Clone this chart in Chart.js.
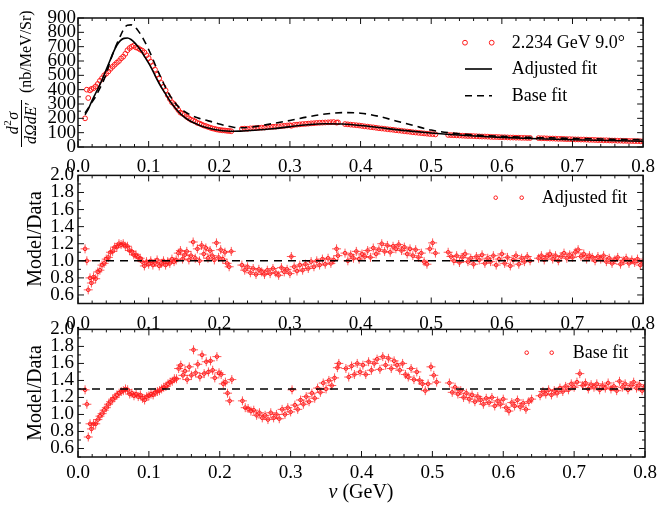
<!DOCTYPE html>
<html><head><meta charset="utf-8">
<script src="https://cdn.jsdelivr.net/npm/chart.js@4"></script>
<style>
html,body{margin:0;padding:0;background:#fff;width:664px;height:517px;overflow:hidden;}
canvas{position:absolute;left:0;}
</style></head><body>
<canvas id="c1" width="664" height="175" style="top:0px"></canvas>
<canvas id="c2" width="664" height="175" style="top:160px"></canvas>
<canvas id="c3" width="664" height="203" style="top:314px"></canvas>
<script>
// ---------------- DATA ----------------
const xTicks = [0.0,0.1,0.2,0.3,0.4,0.5,0.6,0.7,0.8];
const yTicksTop = [0,100,200,300,400,500,600,700,800,900];
const yTicksRatio = [0.6,0.8,1.0,1.2,1.4,1.6,1.8,2.0];
const legendTop = ["2.234 GeV 9.0°","Adjusted fit","Base fit"];
const legendMid = ["Adjusted fit"];
const legendBot = ["Base fit"];
const refAdj = 1.0;
const refBase = 1.3;

// energy transfer nu (GeV) for data points
const nu = [
0.010,0.0125,0.0145,0.017,0.019,0.022,0.025,0.028,0.031,0.034,0.037,0.040,0.043,0.046,0.049,0.052,0.055,0.058,0.061,0.064,0.067,0.070,0.073,0.076,0.079,0.082,0.085,0.088,0.091,0.094,0.097,0.100,0.103,0.106,0.109,0.112,0.115,0.118,0.121,0.124,0.127,0.130,0.133,0.136,0.139,0.142,0.145,0.148,0.151,0.154,0.157,0.160,0.163,0.166,0.169,0.172,0.175,0.178,0.181,0.184,0.187,0.190,0.193,0.196,0.199,0.202,0.205,0.208,0.211,0.214,0.217,
0.232,0.236,0.240,0.244,0.248,0.252,0.256,0.260,0.264,0.268,0.272,0.276,0.280,0.284,0.288,0.292,0.296,0.300,0.302,0.306,0.310,0.314,0.318,0.322,0.326,0.330,0.334,0.338,0.342,0.346,0.350,0.354,0.358,0.362,0.366,0.368,
0.378,0.382,0.386,0.390,0.394,0.398,0.402,0.406,0.410,0.414,0.418,0.422,0.426,0.430,0.434,0.438,0.442,0.446,0.450,0.454,0.458,0.462,0.466,0.470,0.474,0.478,0.482,0.486,0.490,0.494,0.498,0.502,0.506,
0.524,0.528,0.532,0.536,0.540,0.544,0.548,0.552,0.556,0.560,0.564,0.568,0.572,0.576,0.580,0.584,0.588,0.592,0.596,0.600,0.604,0.608,0.612,0.616,0.620,0.624,0.628,0.632,0.636,0.640,
0.652,0.656,0.660,0.664,0.668,0.672,0.676,0.680,0.684,0.688,0.692,0.696,0.700,0.704,0.708,0.712,0.716,0.720,0.724,0.728,0.732,0.736,0.740,0.744,0.748,0.752,0.756,0.760,0.764,0.768,0.772,0.776,0.780,0.784,0.788,0.792,0.796,0.800
];
// cross section d2sigma/dOmega dE' (nb/MeV/Sr)
const xsec = [
200,400,342,395,405,410,423,440,462,480,500,512,527,545,560,574,588,600,618,630,650,675,690,700,707,695,690,680,672,660,640,620,595,565,540,505,480,447,420,395,362,335,312,300,278,258,240,232,225,210,200,190,185,178,168,164,157,150,146,140,135,130,127,123,120,118,116,115,113,112,110,
127,128,127,130,131,132,134,135,136,138,140,141,142,144,146,148,150,152,148,154,156,158,160,161,163,165,166,168,169,170,171,172,173,174,170,172,
160,158,156,154,152,150,147,144,142,139,137,134,131,129,127,124,122,120,117,115,113,110,108,106,103,101,99,97,95,93,91,90,88,
84,83,82,81,80,79,78,77,77,76,75,74,73,73,72,71,70,70,69,68,68,67,66,66,65,65,64,64,63,63,
62,61,61,60,59,59,58,57,57,56,55,55,54,53,53,52,52,51,50,50,49,48,48,47,47,46,45,45,44,44,43,43,42,42,41,41,40,40
];
// Model/Data, adjusted fit
const ratioAdj = [
1.14,1.00,0.66,0.80,0.74,
0.81,0.79,0.87,0.89,0.95,0.97,1.02,1.04,1.10,1.11,1.16,1.16,1.20,1.19,1.20,1.17,1.17,1.12,1.11,1.07,1.07,1.04,1.03,
0.99,0.94,0.99,0.96,1.00,0.95,0.98,1.01,0.94,0.97,1.00,0.95,0.99,0.97,1.02,0.99,
1.01,1.09,1.12,1.02,1.07,1.11,1.01,1.06,1.22,1.03,1.14,1.00,1.18,1.08,1.15,1.03,1.12,1.06,1.01,1.21,1.04,1.13,1.02,1.10,0.97,0.93,1.11,
0.95,0.89,0.93,0.86,0.91,0.84,0.90,0.87,0.84,0.89,0.85,0.91,0.86,0.83,0.92,0.87,0.90,0.85,1.05,0.93,0.88,0.95,0.89,0.96,0.91,0.99,0.93,1.00,0.95,1.02,0.96,1.03,0.97,1.01,1.14,1.06,
1.09,1.00,1.07,1.03,1.11,1.02,1.08,1.05,1.12,1.04,1.15,1.08,1.13,1.20,1.11,1.18,1.10,1.17,1.14,1.19,1.12,1.16,1.08,1.14,1.06,1.13,1.04,1.09,0.99,0.96,1.14,1.21,1.09,
1.10,1.05,1.00,1.06,0.98,1.04,1.08,0.99,1.03,0.96,1.05,1.01,1.07,0.97,1.03,0.99,1.06,0.95,1.02,1.08,0.97,1.04,0.94,1.01,1.06,0.96,1.03,0.99,1.05,1.00,
1.03,1.06,1.01,1.05,1.08,1.02,1.06,1.00,1.05,1.09,1.03,1.07,1.04,1.10,1.13,1.05,1.08,1.02,1.06,1.04,1.00,1.05,1.02,1.06,0.99,1.03,0.97,1.01,1.04,0.96,1.00,1.03,0.97,1.01,0.98,1.02,0.95,0.99
];
// Model/Data, base fit
const ratioBase = [
1.29,1.12,0.735,0.89,0.83,
0.89,0.89,0.94,0.98,1.01,1.05,1.08,1.12,1.15,1.18,1.20,1.23,1.25,1.27,1.28,1.30,1.29,1.24,1.25,1.22,1.24,1.21,1.23,
1.19,1.17,1.21,1.22,1.24,1.23,1.26,1.27,1.28,1.30,1.32,1.33,1.36,1.38,1.39,1.42,
1.42,1.54,1.58,1.46,1.51,1.41,1.56,1.46,1.76,1.49,1.59,1.44,1.70,1.48,1.62,1.50,1.63,1.52,1.43,1.68,1.49,1.47,1.36,1.38,1.25,1.16,1.41,
1.16,1.08,1.07,1.04,1.05,0.99,1.02,0.96,0.99,0.94,1.02,0.96,1.00,0.95,1.06,1.00,1.08,1.03,1.29,1.11,1.06,1.17,1.12,1.21,1.15,1.25,1.19,1.31,1.26,1.37,1.30,1.40,1.34,1.43,1.55,1.60,
1.54,1.44,1.57,1.47,1.60,1.50,1.58,1.47,1.62,1.52,1.60,1.65,1.53,1.68,1.58,1.66,1.54,1.63,1.58,1.52,1.60,1.47,1.44,1.54,1.41,1.50,1.40,1.36,1.28,1.36,1.56,1.46,1.38,
1.37,1.26,1.32,1.24,1.28,1.20,1.25,1.18,1.23,1.15,1.21,1.17,1.12,1.19,1.14,1.20,1.10,1.16,1.12,1.18,1.08,1.04,1.14,1.10,1.17,1.09,1.13,1.06,1.15,1.18,
1.22,1.27,1.24,1.29,1.23,1.28,1.25,1.31,1.27,1.33,1.29,1.36,1.32,1.38,1.48,1.34,1.37,1.30,1.35,1.32,1.36,1.29,1.34,1.31,1.37,1.30,1.33,1.28,1.39,1.32,1.36,1.29,1.34,1.38,1.31,1.35,1.28,1.33
];
// fit curves
const fitNu = [0.010,0.015,0.020,0.025,0.030,0.035,0.040,0.045,0.050,0.055,0.060,0.065,0.070,0.075,0.080,0.085,0.090,0.095,0.100,0.105,0.110,0.115,0.120,0.125,0.130,0.140,0.150,0.160,0.170,0.180,0.190,0.200,0.210,0.220,0.230,0.250,0.275,0.300,0.325,0.350,0.375,0.400,0.425,0.450,0.475,0.500,0.550,0.600,0.650,0.700,0.750,0.800];
const adjFit = [225,270,325,375,425,480,540,600,660,710,742,758,760,750,728,700,665,625,585,540,490,443,400,362,322,258,210,178,156,138,126,117,112,110,111,117,127,142,155,162,160,150,136,121,109,98,80,67,58,51,45,40];
const baseFit = [237,275,315,352,400,450,510,590,660,720,775,825,850,852,840,812,775,730,680,625,565,510,455,405,360,292,250,222,202,188,175,160,148,138,134,142,163,185,210,230,240,236,215,182,150,118,88,74,66,60,55,51];

// ---------------- DRAWING ----------------
const SERIF = '"Liberation Serif","Times New Roman",serif';
const pts = (xs, ys) => xs.map((x,i)=>({x:x, y:ys[i]}));

function deco(o){
  return {
    id:'deco',
    afterDraw(chart){
      const ctx=chart.ctx, a=chart.chartArea, x=chart.scales.x, y=chart.scales.y;
      ctx.save();
      ctx.strokeStyle='#111';
      ctx.lineWidth=1;
      ctx.beginPath();
      for(let k=0;k<=40;k++){
        const px=x.getPixelForValue(k*0.02);
        const L=(k%5===0)?6:3;
        ctx.moveTo(px,a.bottom); ctx.lineTo(px,a.bottom-L);
        ctx.moveTo(px,a.top); ctx.lineTo(px,a.top+L);
      }
      const k0=Math.ceil(o.ymin/o.minor-1e-9), k1=Math.floor(o.ymax/o.minor+1e-9);
      for(let k=k0;k<=k1;k++){
        const py=y.getPixelForValue(k*o.minor);
        const L=(k%2===0)?6:3;
        ctx.moveTo(a.left,py); ctx.lineTo(a.left+L,py);
        ctx.moveTo(a.right,py); ctx.lineTo(a.right-L,py);
      }
      ctx.stroke();
      ctx.lineWidth=1.5;
      ctx.strokeRect(a.left,a.top,a.right-a.left,a.bottom-a.top);
      if(o.extra) o.extra(ctx,chart);
      ctx.restore();
    }
  };
}

function circle(ctx,x,y,r){ctx.beginPath();ctx.arc(x,y,r,0,Math.PI*2);ctx.stroke();}

function rotTitle(ctx, text, bx, cy){
  ctx.save();
  ctx.translate(bx,cy); ctx.rotate(-Math.PI/2);
  ctx.font='20px '+SERIF; ctx.fillStyle='#000';
  ctx.textAlign='center'; ctx.textBaseline='alphabetic';
  ctx.fillText(text,0,0);
  ctx.restore();
}

function makeChart(id, padTop, xH, xPad, yPad, ymin, ymax, yTicks, yFmt, datasets, decoOpts){
  return new Chart(document.getElementById(id), {
    type:'scatter',
    data:{datasets:datasets},
    options:{
      responsive:false, animation:false, devicePixelRatio:1,
      layout:{padding:{left:0,right:19,top:padTop,bottom:0}},
      plugins:{legend:{display:false}, tooltip:{enabled:false}},
      scales:{
        x:{type:'linear', min:0, max:0.8,
           afterFit:s=>{s.height=xH;},
           afterBuildTicks:s=>{s.ticks=xTicks.map(v=>({value:v}));},
           grid:{display:false, drawTicks:false}, border:{display:false},
           ticks:{font:{family:SERIF,size:19}, color:'#000', padding:xPad, maxRotation:0, autoSkip:false,
                  callback:v=>Number(v).toFixed(1)}},
        y:{type:'linear', min:ymin, max:ymax,
           afterFit:s=>{s.width=78;},
           afterBuildTicks:s=>{s.ticks=yTicks.map(v=>({value:v}));},
           grid:{display:false, drawTicks:false}, border:{display:false},
           ticks:{font:{family:SERIF,size:19}, color:'#000', padding:yPad, autoSkip:false,
                  callback:yFmt}}
      }
    },
    plugins:[deco(decoOpts)]
  });
}

const crossColor='rgba(255,25,25,0.72)';

// ---- top panel ----
makeChart('c1', 18, 28, 9, 2, 0, 900, yTicksTop, v=>String(Math.round(v)), [
  {data:pts(fitNu,adjFit), showLine:true, borderColor:'#000', borderWidth:1.6, pointRadius:0, cubicInterpolationMode:'monotone'},
  {data:pts(fitNu,baseFit), showLine:true, borderColor:'#000', borderWidth:1.6, borderDash:[7,5], pointRadius:0, cubicInterpolationMode:'monotone'},
  {data:pts(nu,xsec), showLine:false, pointStyle:'circle', pointRadius:2.4, pointBorderWidth:1, pointBorderColor:'#ff1a1a', pointBackgroundColor:'rgba(0,0,0,0)'}
], {ymin:0, ymax:900, minor:50, extra:(ctx)=>{
  // legend
  ctx.strokeStyle='#ff1a1a'; ctx.lineWidth=1;
  circle(ctx,465,42.7,2.4); circle(ctx,491.7,42.7,2.4);
  ctx.strokeStyle='#000'; ctx.lineWidth=1.6;
  ctx.beginPath(); ctx.moveTo(465,69); ctx.lineTo(492,69); ctx.stroke();
  ctx.setLineDash([7,5]); ctx.beginPath(); ctx.moveTo(465,95.7); ctx.lineTo(492,95.7); ctx.stroke(); ctx.setLineDash([]);
  ctx.fillStyle='#000'; ctx.font='18px '+SERIF; ctx.textAlign='left'; ctx.textBaseline='middle';
  ctx.fillText(legendTop[0],511.7,43); ctx.fillText(legendTop[1],511.7,69.5); ctx.fillText(legendTop[2],511.7,96);
  // y title: d^2 sigma / dOmega dE'  (nb/MeV/Sr)
  ctx.save();
  ctx.translate(0,147); ctx.rotate(-Math.PI/2);
  ctx.textBaseline='alphabetic'; ctx.textAlign='left';
  const fI='italic 16px '+SERIF, fS='11px '+SERIF;
  ctx.font=fI; const wd=ctx.measureText('d').width;
  ctx.font=fS; const w2=ctx.measureText('2').width;
  ctx.font=fI; const ws=ctx.measureText('σ').width;
  let nx=23.5-(wd+w2+ws)/2;
  ctx.font=fI; ctx.fillText('d',nx,18); nx+=wd;
  ctx.font=fS; ctx.fillText('2',nx+0.5,11); nx+=w2+1;
  ctx.font=fI; ctx.fillText('σ',nx,18);
  ctx.lineWidth=1; ctx.strokeStyle='#000';
  ctx.beginPath(); ctx.moveTo(0,21.5); ctx.lineTo(47,21.5); ctx.stroke();
  ctx.font=fI; ctx.textAlign='center';
  ctx.fillText('dΩdE′',23.5,35.5);
  ctx.font='16px '+SERIF; ctx.textAlign='left';
  ctx.fillText('(nb/MeV/Sr)',54,31);
  ctx.restore();
}});

// ---- middle panel ----
makeChart('c2', 15, 31.5, 9, 4, 0.5, 2.0, yTicksRatio, v=>Number(v).toFixed(1), [
  {data:[{x:0,y:refAdj},{x:0.8,y:refAdj}], showLine:true, borderColor:'#000', borderWidth:1.6, borderDash:[8,6], pointRadius:0},
  {data:pts(nu,ratioAdj), showLine:false, pointStyle:'circle', pointRadius:1.8, pointBorderWidth:1, pointBorderColor:'#ff1a1a', pointBackgroundColor:'rgba(0,0,0,0)'},
  {data:pts(nu,ratioAdj), showLine:false, pointStyle:'cross', pointRadius:4.5, pointBorderWidth:1, pointBorderColor:crossColor}
], {ymin:0.5, ymax:2.0, minor:0.1, extra:(ctx)=>{
  ctx.strokeStyle='#ff1a1a'; ctx.lineWidth=1;
  circle(ctx,495.7,37.7,1.8); circle(ctx,521.7,37.7,1.8);
  ctx.fillStyle='#000'; ctx.font='18px '+SERIF; ctx.textAlign='left'; ctx.textBaseline='middle';
  ctx.fillText(legendMid[0],541.7,38);
  rotTitle(ctx,'Model/Data',41,79);
}});

// ---- bottom panel ----
makeChart('c3', 15, 60, 5, 4, 0.5, 2.0, yTicksRatio, v=>Number(v).toFixed(1), [
  {data:[{x:0,y:refBase},{x:0.8,y:refBase}], showLine:true, borderColor:'#000', borderWidth:1.6, borderDash:[8,6], pointRadius:0},
  {data:pts(nu,ratioBase), showLine:false, pointStyle:'circle', pointRadius:1.8, pointBorderWidth:1, pointBorderColor:'#ff1a1a', pointBackgroundColor:'rgba(0,0,0,0)'},
  {data:pts(nu,ratioBase), showLine:false, pointStyle:'cross', pointRadius:4.5, pointBorderWidth:1, pointBorderColor:crossColor}
], {ymin:0.5, ymax:2.0, minor:0.1, extra:(ctx)=>{
  ctx.strokeStyle='#ff1a1a'; ctx.lineWidth=1;
  circle(ctx,526.7,38.7,1.8); circle(ctx,551.7,38.7,1.8);
  ctx.fillStyle='#000'; ctx.font='18px '+SERIF; ctx.textAlign='left'; ctx.textBaseline='middle';
  ctx.fillText(legendBot[0],572.7,39);
  rotTitle(ctx,'Model/Data',41,79);
  ctx.font='italic 20px '+SERIF; const w1=ctx.measureText('ν').width;
  ctx.font='20px '+SERIF; const w2=ctx.measureText(' (GeV)').width;
  let sx=361-(w1+w2)/2;
  ctx.textAlign='left'; ctx.textBaseline='middle';
  ctx.font='italic 20px '+SERIF; ctx.fillText('ν',sx,179);
  ctx.font='20px '+SERIF; ctx.fillText(' (GeV)',sx+w1,179);
}});
</script>
</body></html>
